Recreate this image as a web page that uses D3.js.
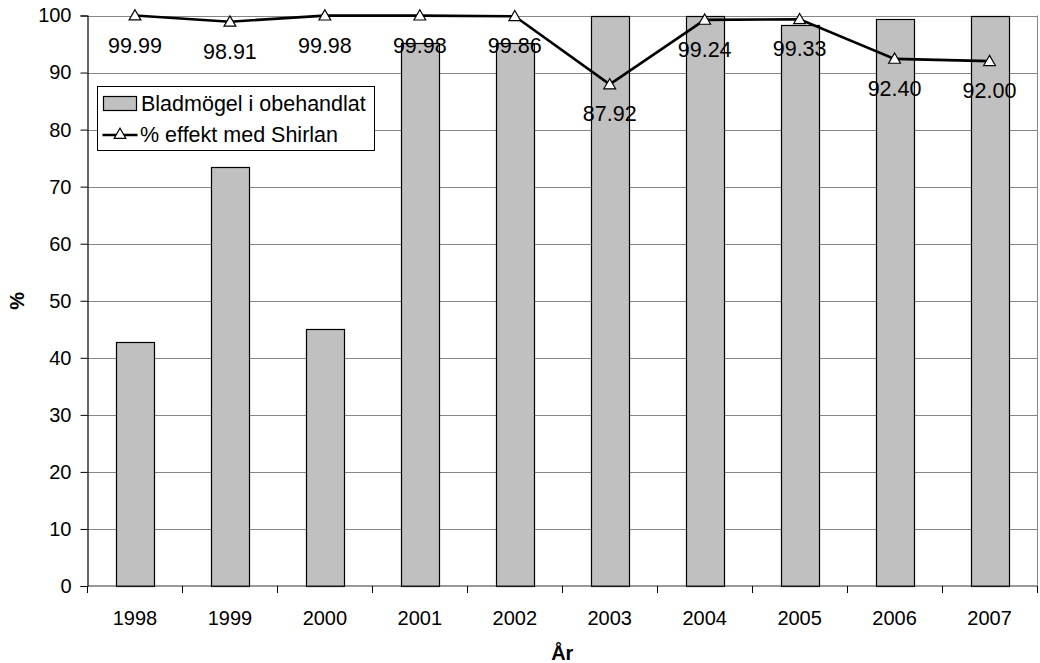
<!DOCTYPE html>
<html>
<head>
<meta charset="utf-8">
<script src="https://cdn.jsdelivr.net/npm/d3@7/dist/d3.min.js"></script>
<style>
  html, body { margin: 0; padding: 0; background: #fff; }
  svg { display: block; font-family: "Liberation Sans", Arial, sans-serif; }
</style>
</head>
<body>
<svg id="chart" width="1040" height="663"></svg>
<script>
// Years on the x axis
const years = ["1998", "1999", "2000", "2001", "2002", "2003", "2004", "2005", "2006", "2007"];
// Leaf blight in untreated plots (%)
const untreated = [42.8, 73.4, 45.0, 95.2, 95.1, 99.9, 100.0, 98.4, 99.4, 100.0];
// Effect of Shirlan treatment (%)
const effect = [99.99, 98.91, 99.98, 99.98, 99.86, 87.92, 99.24, 99.33, 92.40, 92.00];
// Y axis ticks
const yTicks = [0, 10, 20, 30, 40, 50, 60, 70, 80, 90, 100];

const seriesNames = ["Bladmögel i obehandlat", "% effekt med Shirlan"];

const svg = d3.select("#chart");
const plot = { left: 87.5, right: 1037, top: 15.5, bottom: 586 };

const x = d3.scaleBand()
  .domain(years)
  .range([plot.left, plot.right])
  .paddingInner(0.6)
  .paddingOuter(0.3);

const y = d3.scaleLinear()
  .domain([0, 100])
  .range([plot.bottom, plot.top]);

// Horizontal gridlines
svg.append("g")
  .selectAll("line")
  .data(yTicks.filter(d => d > 0))
  .join("line")
  .attr("x1", plot.left)
  .attr("x2", plot.right)
  .attr("y1", d => Math.round(y(d)) + 0.5)
  .attr("y2", d => Math.round(y(d)) + 0.5)
  .attr("stroke", "#868686")
  .attr("stroke-width", 1);

// Right border of the plot area
svg.append("line")
  .attr("x1", plot.right + 0.5).attr("x2", plot.right + 0.5)
  .attr("y1", y(100)).attr("y2", y(0))
  .attr("stroke", "#868686");

// Bars
svg.append("g")
  .selectAll("rect")
  .data(years.map((yr, i) => ({ yr, v: untreated[i] })))
  .join("rect")
  .attr("x", d => Math.round(x(d.yr)) + 0.5)
  .attr("y", d => Math.round(y(d.v)) + 0.5)
  .attr("width", Math.round(x.bandwidth()))
  .attr("height", d => Math.round(y(0)) - Math.round(y(d.v)))
  .attr("fill", "#c0c0c0")
  .attr("stroke", "#000")
  .attr("stroke-width", 1.2);

// Y axis
const yAxis = svg.append("g")
  .attr("transform", `translate(${plot.left},0)`)
  .call(d3.axisLeft(y).tickValues(yTicks).tickSize(7).tickPadding(9).tickFormat(d3.format("d")));
yAxis.select(".domain").attr("stroke", "#000").attr("stroke-width", 1.2);
yAxis.selectAll(".tick line").attr("stroke", "#000");
yAxis.selectAll(".tick text")
  .attr("font-size", 20)
  .attr("font-family", "Liberation Sans, Arial, sans-serif")
  .attr("fill", "#000");

// X axis baseline with ticks between categories
const xg = svg.append("g");
xg.append("line")
  .attr("x1", plot.left).attr("x2", plot.right)
  .attr("y1", y(0)).attr("y2", y(0))
  .attr("stroke", "#333").attr("stroke-width", 1.2);
const half = (x.step() - x.bandwidth()) / 2;
const bounds = years.map(d => x(d) - half).concat([x(years[years.length - 1]) + x.bandwidth() + half]);
xg.selectAll("line.tick")
  .data(bounds)
  .join("line")
  .attr("class", "tick")
  .attr("x1", d => Math.round(d) + 0.5).attr("x2", d => Math.round(d) + 0.5)
  .attr("y1", y(0)).attr("y2", y(0) + 7)
  .attr("stroke", "#000");
xg.selectAll("text")
  .data(years)
  .join("text")
  .attr("x", d => x(d) + x.bandwidth() / 2)
  .attr("y", 625)
  .attr("text-anchor", "middle")
  .attr("font-size", 20)
  .text(d => d);

// Effect line
const line = d3.line()
  .x((d, i) => x(years[i]) + x.bandwidth() / 2)
  .y(d => y(d));
svg.append("path")
  .datum(effect)
  .attr("d", line)
  .attr("fill", "none")
  .attr("stroke", "#000")
  .attr("stroke-width", 2.6);

const tri = d3.symbol().type(d3.symbolTriangle).size(60);
svg.append("g")
  .selectAll("path")
  .data(effect)
  .join("path")
  .attr("d", tri)
  .attr("transform", (d, i) => `translate(${x(years[i]) + x.bandwidth() / 2},${y(d) + 1})`)
  .attr("fill", "#fff")
  .attr("stroke", "#000")
  .attr("stroke-width", 1.2);

// Value labels below the points
svg.append("g")
  .selectAll("text")
  .data(effect)
  .join("text")
  .attr("x", (d, i) => x(years[i]) + x.bandwidth() / 2)
  .attr("y", d => y(d) + 37)
  .attr("text-anchor", "middle")
  .attr("font-size", 21.5)
  .text(d => d.toFixed(2));

// Axis titles
svg.append("text")
  .attr("transform", `translate(24,${(plot.top + plot.bottom) / 2}) rotate(-90)`)
  .attr("text-anchor", "middle")
  .attr("font-size", 20)
  .attr("font-weight", "bold")
  .text("%");
svg.append("text")
  .attr("x", (plot.left + plot.right) / 2)
  .attr("y", 660)
  .attr("text-anchor", "middle")
  .attr("font-size", 20)
  .attr("font-weight", "bold")
  .text("År");

// Legend
const lg = svg.append("g");
lg.append("rect")
  .attr("x", 97.5).attr("y", 86.5)
  .attr("width", 277).attr("height", 64)
  .attr("fill", "#fff").attr("stroke", "#000").attr("stroke-width", 1);
lg.append("rect")
  .attr("x", 103.5).attr("y", 96.5)
  .attr("width", 33).attr("height", 14)
  .attr("fill", "#c0c0c0").attr("stroke", "#000").attr("stroke-width", 1.2);
lg.append("text")
  .attr("x", 141).attr("y", 111)
  .attr("font-size", 21.5)
  .text(seriesNames[0]);
lg.append("line")
  .attr("x1", 102.5).attr("x2", 137.5)
  .attr("y1", 135).attr("y2", 135)
  .attr("stroke", "#000").attr("stroke-width", 2.6);
lg.append("path")
  .attr("d", tri)
  .attr("transform", "translate(120,135)")
  .attr("fill", "#fff").attr("stroke", "#000").attr("stroke-width", 1.2);
lg.append("text")
  .attr("x", 140).attr("y", 142)
  .attr("font-size", 21.5)
  .text(seriesNames[1]);
</script>
</body>
</html>
